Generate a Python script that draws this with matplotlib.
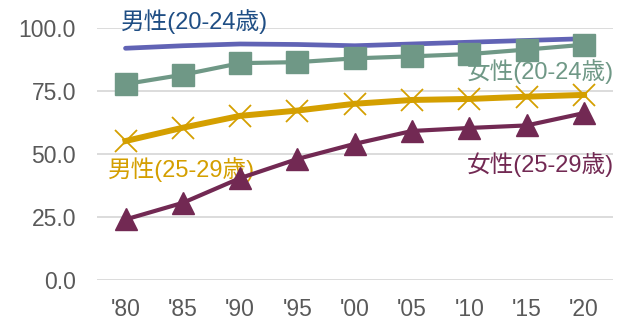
import matplotlib
matplotlib.use("Agg")
import matplotlib.pyplot as plt

plt.rcParams['font.family'] = ['Liberation Sans', 'Noto Sans CJK JP', 'DejaVu Sans']

years = ["'80", "'85", "'90", "'95", "'00", "'05", "'10", "'15", "'20"]
male_20_24 = [91.9, 92.9, 93.6, 93.4, 92.9, 93.6, 94.3, 95.0, 95.7]
female_20_24 = [77.7, 81.4, 86.0, 86.4, 87.9, 88.7, 89.6, 91.4, 93.3]
male_25_29 = [55.1, 60.4, 65.1, 67.2, 69.9, 71.4, 71.8, 72.7, 73.4]
female_25_29 = [24.0, 30.6, 40.4, 48.0, 54.0, 59.1, 60.3, 61.3, 66.2]

c_male_20 = '#6163b5'
c_female_20 = '#6f9886'
c_male_25 = '#d49f00'
c_female_25 = '#722953'

fig, ax = plt.subplots(figsize=(6.33, 3.2), dpi=100)
fig.subplots_adjust(left=0.153, right=0.968, top=0.913, bottom=0.125)

x = list(range(len(years)))
ax.plot(x, male_20_24, color=c_male_20, lw=3.4, solid_capstyle='round', zorder=3)
ax.plot(x, female_20_24, color=c_female_20, lw=3.0, marker='s', ms=15.5, zorder=4)
ax.plot(x, male_25_29, color=c_male_25, lw=4.3, marker='x', ms=16, mew=1.3, zorder=3)
ax.plot(x, female_25_29, color=c_female_25, lw=3.0, marker='^', ms=15.5, zorder=4)

lbl = dict(fontsize=17, va='center')
ax.text(-0.08, 102.4, '男性(20-24歳)', color='#1f4e84', ha='left', **lbl)
ax.text(8.52, 82.5, '女性(20-24歳)', color=c_female_20, ha='right', **lbl)
ax.text(-0.3, 43.7, '男性(25-29歳)', color=c_male_25, ha='left', **lbl)
ax.text(8.52, 45.6, '女性(25-29歳)', color=c_female_25, ha='right', **lbl)

ax.set_xlim(-0.5, len(years) - 0.5)
ax.set_ylim(0, 100)
ax.set_yticks([0, 25, 50, 75, 100])
ax.set_yticklabels([f'{v:.1f}' for v in [0, 25, 50, 75, 100]])
ax.set_xticks(x)
ax.set_xticklabels(years)
ax.tick_params(axis='both', length=0, labelsize=16.5, colors='#595959')
ax.tick_params(axis='y', pad=15)
ax.tick_params(axis='x', pad=13)
ax.grid(axis='y', color='#d9d9d9', lw=1.3)
ax.set_axisbelow(True)
for s in ax.spines.values():
    s.set_visible(False)
for line in ax.lines:
    line.set_clip_on(False)

fig.savefig('out.png', dpi=100)
